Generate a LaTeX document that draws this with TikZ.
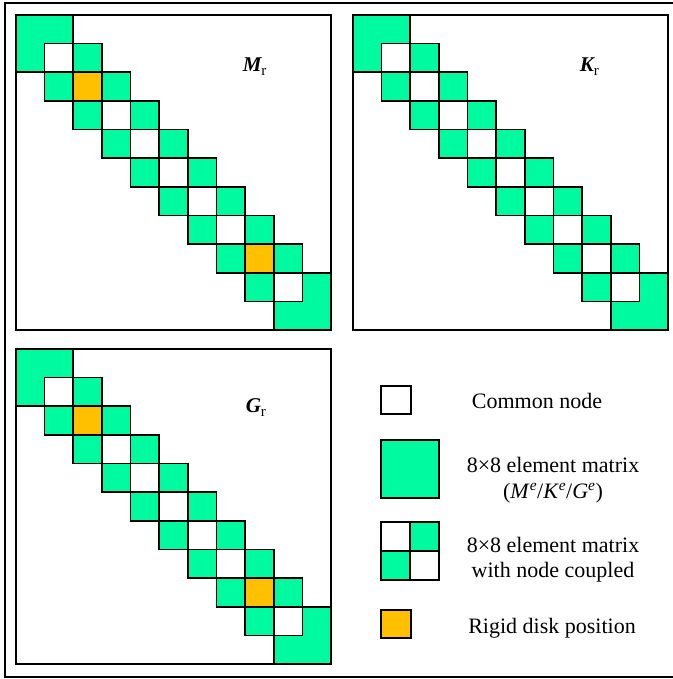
\documentclass[tikz,border=0pt]{standalone}
\usepackage{fontspec}
\setmainfont{Liberation Serif}
\definecolor{cgreen}{RGB}{0,250,160}
\definecolor{corange}{RGB}{255,192,0}
\tikzset{
  gcell/.style={draw=black,fill=cgreen},
  wcell/.style={draw=black,fill=white},
  ocell/.style={draw=black,fill=corange},
  legtext/.style={anchor=base,inner sep=0pt,font=\fontsize{22}{26}\selectfont},
  mlabel/.style={anchor=base west,inner sep=0pt,font=\fontsize{21}{25}\selectfont}
}
\newcommand\drawmatrix[3]{%
  \begin{scope}[shift={(#1,#2)}]
    \def\cs{28.636}
    \draw[gcell] (0,0) rectangle ({2*\cs},{2*\cs});
    \draw[gcell] ({9*\cs},{9*\cs}) rectangle ({11*\cs},{11*\cs});
    \foreach \k in {1,...,8} {
      \draw[gcell] ({(\k+1)*\cs},{\k*\cs}) rectangle ++(\cs,\cs);
      \draw[gcell] ({\k*\cs},{(\k+1)*\cs}) rectangle ++(\cs,\cs);
    }
    \foreach \k in {1,...,9} {
      \draw[wcell] ({\k*\cs},{\k*\cs}) rectangle ++(\cs,\cs);
    }
    \ifnum#3=1
      \draw[ocell] ({2*\cs},{2*\cs}) rectangle ++(\cs,\cs);
      \draw[ocell] ({8*\cs},{8*\cs}) rectangle ++(\cs,\cs);
    \fi
    \draw (0,0) rectangle (315,315);
  \end{scope}}
\begin{document}
\begin{tikzpicture}[x=1pt,y=-1pt,line width=1.6pt]
\useasboundingbox (0,0) rectangle (672,679);
\draw (5,3) rectangle (677,677);
\drawmatrix{16}{15}{1}
\drawmatrix{353}{15}{0}
\drawmatrix{16}{349}{1}
\node[mlabel] (lblM) at (242,72) {\bfseries\itshape M\raisebox{-4pt}{\normalfont\fontsize{15}{15}\selectfont r}};
\node[mlabel] (lblK) at (579,72) {\bfseries\itshape K\raisebox{-4pt}{\normalfont\fontsize{15}{15}\selectfont r}};
\node[mlabel] (lblG) at (245,412) {\bfseries\itshape G\raisebox{-4pt}{\normalfont\fontsize{15}{15}\selectfont r}};
% legend
\draw[wcell] (381,386) rectangle (411,414);
\node[legtext] (t1) at (537,408) {Common node};
\draw[gcell] (381,440) rectangle (439,498);
\node[legtext] (t2a) at (553,472) {8×8 element matrix};
\node[legtext] (t2b) at (553,498) {(\textit{M}\textsuperscript{\textit{e}}/\textit{K}\textsuperscript{\textit{e}}/\textit{G}\textsuperscript{\textit{e}})};
\draw[wcell] (381,522) rectangle (410,551);
\draw[gcell] (410,522) rectangle (439,551);
\draw[gcell] (381,551) rectangle (410,580);
\draw[wcell] (410,551) rectangle (439,580);
\node[legtext] (t3a) at (553,552) {8×8 element matrix};
\node[legtext] (t3b) at (553,577) {with node coupled};
\draw[ocell] (381,610) rectangle (411,638);
\node[legtext] (t4) at (552,633) {Rigid disk position};
\end{tikzpicture}
\end{document}
